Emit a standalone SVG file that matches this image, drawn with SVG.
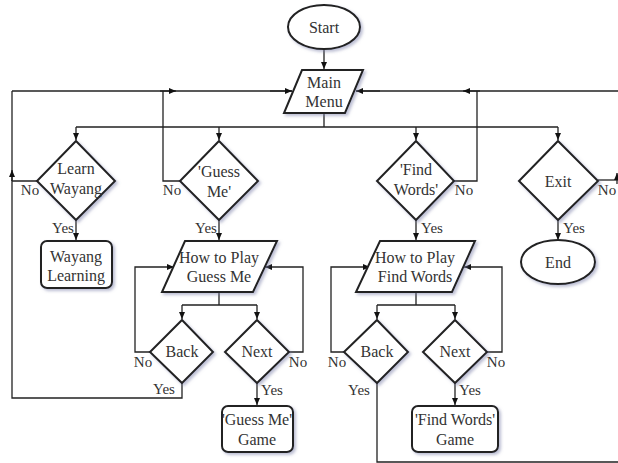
<svg xmlns="http://www.w3.org/2000/svg" width="618" height="463" viewBox="0 0 618 463">
<defs>
<marker id="ah" markerUnits="userSpaceOnUse" markerWidth="7" markerHeight="6" refX="7" refY="3" orient="auto"><path d="M0,0 L7,3 L0,6 z" fill="#111"/></marker>
<filter id="sh" x="-20%" y="-20%" width="150%" height="150%"><feDropShadow dx="2" dy="2" stdDeviation="1.5" flood-color="#7a7fa8" flood-opacity="0.5"/></filter>
</defs>
<style>
.n{fill:#fff;stroke:#222;stroke-width:2;filter:url(#sh)}
.c{fill:none;stroke:#222;stroke-width:1.3}
.a{fill:none;stroke:#222;stroke-width:1.3;marker-end:url(#ah)}
text{font-family:"Liberation Serif","Times New Roman",serif;fill:#333;text-anchor:middle}
.t{font-size:16px}
.l{font-size:15px}
</style>
<rect width="618" height="463" fill="#fff"/>
<g id="connectors">
<path class="a" d="M324,49 V69"/>
<path class="c" d="M324,113 V127 M76,127 H558"/>
<path class="a" d="M76,127 V140"/>
<path class="a" d="M219,127 V140"/>
<path class="a" d="M416,127 V140"/>
<path class="a" d="M558,127 V140"/>
<path class="c" d="M37,181 H12 V398 H182 V383"/>
<path class="c" d="M12,91 V181"/>
<path class="a" d="M12,181 V170"/>
<path class="c" d="M12,91 H292"/>
<path class="a" d="M160,91 H176"/>
<path class="a" d="M270,91 H292"/>
<path class="c" d="M180,181 H163 V91"/>
<path class="c" d="M620,91 H356"/>
<path class="a" d="M480,91 H463"/>
<path class="a" d="M380,91 H356"/>
<path class="c" d="M454,181 H477 V91"/>
<path class="c" d="M598,180 H620"/>
<path class="a" d="M617,184 V173"/>
<path class="a" d="M76,220 V240"/>
<path class="a" d="M219,220 V240"/>
<path class="a" d="M416,220 V240"/>
<path class="a" d="M558,220 V240"/>
<path class="c" d="M219,292 V305 M182,305 H257"/>
<path class="a" d="M182,305 V319"/>
<path class="a" d="M257,305 V319"/>
<path class="a" d="M150,352 H135 V267 H174"/>
<path class="a" d="M289,352 H303 V267 H265"/>
<path class="a" d="M257,383 V405"/>
<path class="c" d="M416,292 V305 M377,305 H455"/>
<path class="a" d="M377,305 V319"/>
<path class="a" d="M455,305 V319"/>
<path class="a" d="M344,352 H331 V267 H370"/>
<path class="a" d="M487,352 H502 V267 H464"/>
<path class="a" d="M455,383 V405"/>
<path class="c" d="M377,383 V462 H620"/>
</g>
<g id="labels">
<text class="l" x="30" y="195">No</text>
<text class="l" x="172" y="195">No</text>
<text class="l" x="464" y="195">No</text>
<text class="l" x="607" y="195">No</text>
<text class="l" x="63" y="233">Yes</text>
<text class="l" x="206" y="233">Yes</text>
<text class="l" x="432" y="233">Yes</text>
<text class="l" x="574" y="233">Yes</text>
<text class="l" x="143" y="367">No</text>
<text class="l" x="298" y="367">No</text>
<text class="l" x="164" y="394">Yes</text>
<text class="l" x="272" y="395">Yes</text>
<text class="l" x="337" y="367">No</text>
<text class="l" x="496" y="367">No</text>
<text class="l" x="359" y="395">Yes</text>
<text class="l" x="470" y="395">Yes</text>
</g>
<g id="start"><ellipse class="n" cx="324" cy="27" rx="36" ry="22"/><text class="t" x="324" y="33">Start</text></g>
<g id="main-menu"><path class="n" d="M302,70 H363 L345,113 H284 Z"/><text class="t" x="324" y="88">Main</text><text class="t" x="324" y="107">Menu</text></g>
<g id="learn-wayang"><path class="n" d="M76,141 L115,181 L76,220 L37,181 Z"/><text class="t" x="76" y="174">Learn</text><text class="t" x="76" y="194">Wayang</text></g>
<g id="guess-me"><path class="n" d="M219,141 L258,181 L219,220 L180,181 Z"/><text class="t" x="219" y="177">'Guess</text><text class="t" x="219" y="197">Me'</text></g>
<g id="find-words"><path class="n" d="M416,141 L454,181 L416,220 L377,181 Z"/><text class="t" x="416" y="175">'Find</text><text class="t" x="416" y="195">Words'</text></g>
<g id="exit"><path class="n" d="M558,141 L598,181 L558,220 L519,181 Z"/><text class="t" x="558" y="187">Exit</text></g>
<g id="wayang-learning"><rect class="n" x="41" y="241" width="71" height="47" rx="6"/><text class="t" x="76" y="262">Wayang</text><text class="t" x="76" y="281">Learning</text></g>
<g id="end"><ellipse class="n" cx="558" cy="262" rx="37" ry="22"/><text class="t" x="558" y="268">End</text></g>
<g id="how-guess"><path class="n" d="M185,241 H277 L253,292 H162 Z"/><text class="t" x="219" y="263">How to Play</text><text class="t" x="219" y="282">Guess Me</text></g>
<g id="how-find"><path class="n" d="M380,241 H475 L452,292 H356 Z"/><text class="t" x="415" y="263">How to Play</text><text class="t" x="415" y="282">Find Words</text></g>
<g id="back-guess"><path class="n" d="M182,320 L213,352 L182,383 L150,352 Z"/><text class="t" x="182" y="357">Back</text></g>
<g id="next-guess"><path class="n" d="M257,320 L289,352 L257,383 L225,352 Z"/><text class="t" x="257" y="357">Next</text></g>
<g id="back-find"><path class="n" d="M377,320 L408,352 L377,383 L344,352 Z"/><text class="t" x="377" y="357">Back</text></g>
<g id="next-find"><path class="n" d="M455,320 L487,352 L455,383 L423,352 Z"/><text class="t" x="455" y="357">Next</text></g>
<g id="guess-game"><rect class="n" x="222" y="406" width="71" height="46" rx="6"/><text class="t" x="257" y="425">'Guess Me'</text><text class="t" x="257" y="445">Game</text></g>
<g id="find-game"><rect class="n" x="412" y="406" width="86" height="46" rx="6"/><text class="t" x="455" y="425">'Find Words'</text><text class="t" x="455" y="445">Game</text></g>
</svg>
